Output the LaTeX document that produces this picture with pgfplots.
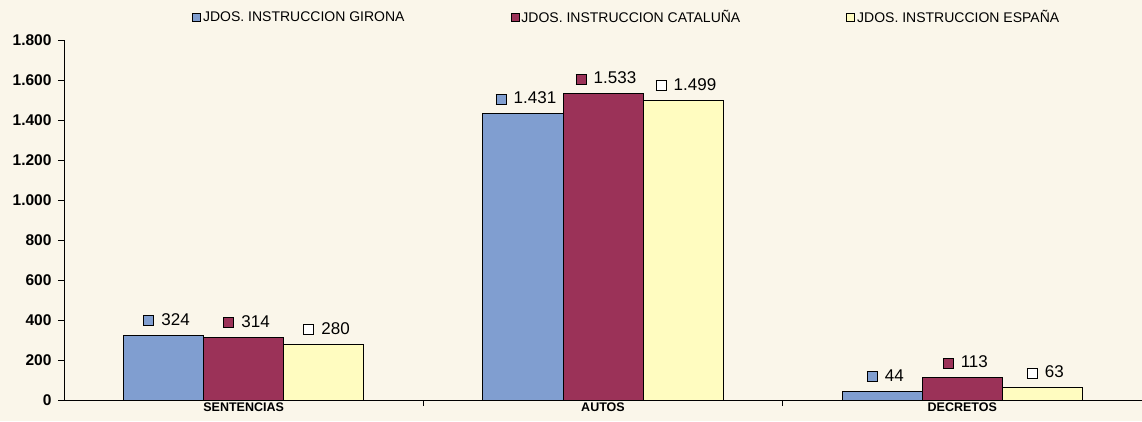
\documentclass[border=0pt]{standalone}
\usepackage{pgfplots}
\pgfplotsset{compat=1.18}
\usepackage{fontspec}
\setmainfont{Liberation Sans}
\definecolor{bgC}{RGB}{250,246,234}
\definecolor{blueC}{RGB}{128,158,208}
\definecolor{redC}{RGB}{155,50,88}
\definecolor{yelC}{RGB}{255,252,192}
\newcommand{\sq}[1]{{\setlength{\fboxsep}{0pt}\setlength{\fboxrule}{1pt}\fcolorbox{black}{#1}{\rule{0pt}{9pt}\hspace{9pt}}}}
\begin{document}
\begin{tikzpicture}
\fill[bgC, use as bounding box] (-64pt,-21pt) rectangle (1078pt,400pt);
\begin{axis}[
  scale only axis, width=1078pt, height=360pt,
  ybar=0pt, bar width=80pt,
  xmin=-0.5, xmax=2.5, ymin=0, ymax=1800,
  ytick distance=200,
  xtick={0.5,1.5}, xticklabels={},
  extra x ticks={0,1,2},
  extra x tick labels={SENTENCIAS,AUTOS,DECRETOS},
  extra x tick style={major tick length=0pt},
  axis lines*=left,
  axis line style={black, line width=0.8pt},
  tick align=outside, major tick length=6pt,
  tick style={black, line width=0.8pt},
  /pgf/number format/assume math mode=true,
  /pgf/number format/1000 sep={.},
  y tick label style={font=\bfseries\fontsize{15.5}{15.5}\selectfont, xshift=-3pt},
  x tick label style={font=\bfseries\fontsize{12.5}{12.5}\selectfont, yshift=1pt},
  nodes near coords style={font=\fontsize{17}{17}\selectfont, anchor=south, yshift=5pt, xshift=3pt},
  legend style={at={(0.522,1.064)}, anchor=center, draw=none, fill=none,
    legend columns=3, font=\fontsize{14}{14}\selectfont,
    /tikz/every even column/.append style={column sep=104pt}},
  mylegend/.style={legend image code/.code={\draw[##1,line width=0.9pt] (0pt,-4pt) rectangle (8pt,4pt);}},
]
\addplot[fill=blueC, draw=black, line width=1pt, mylegend,
  nodes near coords={\sq{blueC}\hspace{7pt}\pgfmathprintnumber{\pgfplotspointmeta}}]
  coordinates {(0,324) (1,1431) (2,44)};
\addplot[fill=redC, draw=black, line width=1pt, mylegend,
  nodes near coords={\sq{redC}\hspace{7pt}\pgfmathprintnumber{\pgfplotspointmeta}}]
  coordinates {(0,314) (1,1533) (2,113)};
\addplot[fill=yelC, draw=black, line width=1pt, mylegend,
  nodes near coords={\sq{white}\hspace{7pt}\pgfmathprintnumber{\pgfplotspointmeta}}]
  coordinates {(0,280) (1,1499) (2,63)};
\legend{JDOS. INSTRUCCION GIRONA, JDOS. INSTRUCCION CATALUÑA, JDOS. INSTRUCCION ESPAÑA}
\end{axis}
\end{tikzpicture}
\end{document}
